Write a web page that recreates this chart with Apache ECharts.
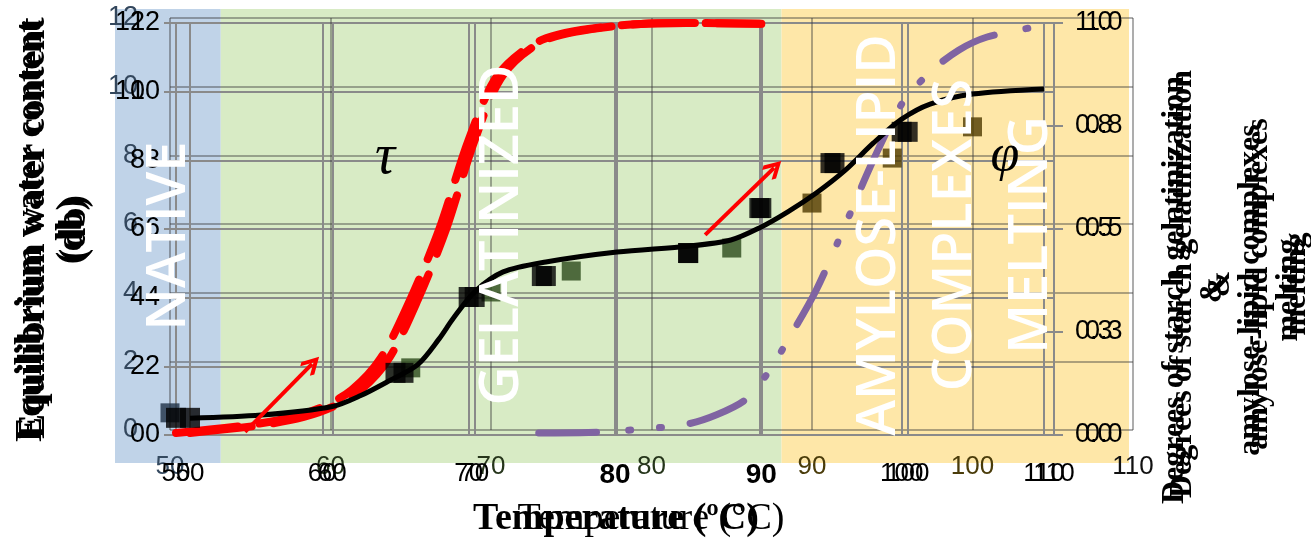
<!DOCTYPE html>
<html><head><meta charset="utf-8">
<script src="https://cdn.jsdelivr.net/npm/echarts@6/dist/echarts.min.js"></script>
<style>html,body{margin:0;padding:0;background:#fff}#chart{width:1311px;height:540px}</style>
</head><body><div id="chart"></div>
<script>
// ---------- data ----------
const tempTicks = [50, 60, 70, 80, 90, 100, 110];
const waterTicks = [0, 2, 4, 6, 8, 10, 12];
const degreeTicks = [0, 0.25, 0.5, 0.75, 1];

const squareTemps = [50, 65, 70, 75, 85, 90, 95, 100];
const squareWater = [0.50, 1.81, 4.02, 4.63, 5.30, 6.61, 7.92, 8.83];

const fitTemps = [50, 55, 60, 62, 64, 66, 67.5, 68.5, 70, 72, 75, 80, 85, 88, 90, 92, 94, 96, 98, 100, 102, 105, 110];
const fitWater = [0.49, 0.58, 0.83, 1.15, 1.58, 2.05, 2.80, 3.40, 4.17, 4.75, 5.04, 5.33, 5.50, 5.68, 6.03, 6.50, 7.05, 7.70, 8.50, 9.20, 9.64, 9.93, 10.08];

const tauTemps = [50, 55, 58, 60, 62, 64, 66, 68, 70, 72, 75, 80, 85, 90];
const tauValues = [0.005, 0.024, 0.044, 0.068, 0.109, 0.187, 0.328, 0.50, 0.716, 0.874, 0.959, 0.993, 1.0, 0.998];

const phiTemps = [74.5, 78, 82, 85, 87, 89, 90.5, 92, 94, 96, 98, 100, 102, 104, 106, 109];
const phiValues = [0.005, 0.006, 0.015, 0.027, 0.049, 0.085, 0.146, 0.23, 0.352, 0.507, 0.667, 0.803, 0.881, 0.934, 0.966, 0.988];

const bandNames = ['NATIVE', 'GELATINIZED', 'AMYLOSE-LIPID\nCOMPLEXES\nMELTING'];
const bandEdges = [46.57, 53.16, 88.1, 109.75];

const arrowStarts = [[54.72, 0.09], [86.16, 5.83]];
const arrowEnds = [[59.3, 2.07], [90.87, 7.78]];

const leftTitle = ['Equilibrium water content', '(db)'];
const rightTitle = ['Degrees of starch gelatinization', '&', 'amylose-lipid complexes', 'melting'];
const xTitle = 'Temperature (ºC)';
const xTitle2 = 'Temperature (°C)';

// ---------- styling helpers ----------
const bandColors = ['#c0d3e8', '#d8ebc5', '#fee7a8'];
const shadowSquareColors = ['#1f3246', '#2c4a1a', '#4d3900'];
const shadowLabelColors = ['#34495f', '#26351b', '#4a3c0a'];
const GRAY = '#8a8a8a';
const TINT = 'rgba(60,60,60,0.42)';
const SANS = "'Liberation Sans', Arial, sans-serif";
const SERIF = "'Liberation Serif', 'Times New Roman', serif";

function bandIndex(t) {
  for (let i = 0; i < 3; i++) if (t < bandEdges[i + 1]) return i;
  return -1;
}
const zip = (a, b) => a.map((v, i) => [v, b[i]]);

const chart = echarts.init(document.getElementById('chart'), null, {renderer: 'canvas'});

const xBase = (grid, extra) => Object.assign({
  type: 'value', gridIndex: grid, min: tempTicks[0], max: tempTicks[tempTicks.length - 1],
  interval: tempTicks[1] - tempTicks[0], z: 2,
  axisLine: {show: false}, axisTick: {show: false}
}, extra);

const yBase = (grid, ticks, extra) => Object.assign({
  type: 'value', gridIndex: grid, min: ticks[0], max: ticks[ticks.length - 1],
  interval: ticks[1] - ticks[0], z: 2,
  axisLine: {show: false}, axisTick: {show: false}, splitLine: {show: false}
}, extra);

const option = {
  animation: false,
  backgroundColor: '#ffffff',
  grid: [
    {left: 115, right: 182, top: 9, bottom: 77},
    {left: 170, right: 178, top: 18, bottom: 110},
    {left: 176, right: 257, top: 23, bottom: 105},
    {left: 190, right: 267, top: 23, bottom: 105}
  ],
  xAxis: [
    {type: 'value', gridIndex: 0, min: bandEdges[0], max: bandEdges[3], show: false},
    xBase(1, {
      splitLine: {show: true, lineStyle: {color: TINT, width: 2}},
      axisLabel: {margin: 24, fontSize: 26, fontFamily: SANS,
        color: function (v) { const i = bandIndex(Number(v)); return i < 0 ? '#111' : shadowLabelColors[i]; }}
    }),
    xBase(2, {
      splitLine: {show: true, lineStyle: {color: GRAY, width: 2}},
      axisLabel: {margin: 26, color: '#000',
        formatter: v => (v === 80 || v === 90) ? '{b|' + v + '}' : '{n|' + v + '}',
        rich: {b: {fontSize: 28, fontWeight: 'bold', fontFamily: SANS, color: '#000'},
               n: {fontSize: 26, fontFamily: SANS, color: '#000'}}}
    }),
    xBase(3, {
      splitLine: {show: true, lineStyle: {color: GRAY, width: 2}},
      axisLabel: {margin: 26, fontSize: 26, fontFamily: SANS, color: '#000',
        formatter: v => (v === 80 || v === 90) ? '' : String(v)}
    })
  ],
  yAxis: [
    {type: 'value', gridIndex: 0, min: 0, max: 1, show: false},
    yBase(1, waterTicks, {
      splitLine: {show: true, lineStyle: {color: TINT, width: 2}},
      axisLabel: {margin: 32, fontSize: 27, fontFamily: SANS, color: '#33475d'}
    }),
    yBase(2, waterTicks, {
      splitLine: {show: true, lineStyle: {color: GRAY, width: 2}},
      axisTick: {show: true, length: 12, lineStyle: {color: GRAY, width: 2}},
      axisLabel: {margin: 16, fontSize: 27, fontFamily: SANS, color: '#000'}
    }),
    yBase(2, degreeTicks, {
      position: 'right',
      axisLine: {show: true, lineStyle: {color: GRAY, width: 2}},
      axisTick: {show: true, length: 9, lineStyle: {color: GRAY, width: 2}},
      axisLabel: {margin: 21, fontSize: 27, fontFamily: SANS, color: '#000', formatter: v => v.toFixed(1)}
    }),
    yBase(3, waterTicks, {
      axisLabel: {margin: 45, fontSize: 27, fontFamily: SANS, color: '#000'}
    }),
    yBase(3, degreeTicks, {
      position: 'right',
      axisLine: {show: true, lineStyle: {color: GRAY, width: 2}},
      axisTick: {show: true, length: 19, lineStyle: {color: GRAY, width: 2}},
      axisLabel: {margin: 41, fontSize: 27, fontFamily: SANS, color: '#000', formatter: v => v.toFixed(1)}
    })
  ],
  series: [
    {
      type: 'line', xAxisIndex: 0, yAxisIndex: 0, z: 1, silent: true, showSymbol: false,
      data: [[bandEdges[0], 0]],
      markArea: {silent: true, z: 1,
        data: bandColors.map((c, i) => [{xAxis: bandEdges[i], itemStyle: {color: c, opacity: 1}}, {xAxis: bandEdges[i + 1]}])}
    },
    {
      type: 'scatter', xAxisIndex: 1, yAxisIndex: 1, z: 3, symbol: 'rect', symbolSize: 19,
      data: zip(squareTemps, squareWater),
      itemStyle: {color: p => { const i = bandIndex(p.value[0]); return shadowSquareColors[i < 0 ? 2 : i]; }}
    },
    {
      type: 'line', xAxisIndex: 3, yAxisIndex: 5, z: 4, smooth: 0.3, showSymbol: false,
      data: zip(phiTemps, phiValues),
      lineStyle: {color: '#8064a2', width: 7, type: [58, 32, 2, 29, 2, 29], cap: 'round', join: 'round'}
    },
    {
      type: 'line', xAxisIndex: 2, yAxisIndex: 3, z: 5, smooth: 0.3, showSymbol: false,
      data: zip(tauTemps, tauValues),
      lineStyle: {color: '#ff0000', width: 8, type: [62, 22], cap: 'round', join: 'round'}
    },
    {
      type: 'line', xAxisIndex: 3, yAxisIndex: 5, z: 5, smooth: 0.3, showSymbol: false,
      data: zip(tauTemps, tauValues),
      lineStyle: {color: '#ff0000', width: 8, type: [62, 22], cap: 'round', join: 'round'}
    },
    {
      type: 'line', xAxisIndex: 3, yAxisIndex: 4, z: 6, smooth: 0.3, showSymbol: false,
      data: zip(fitTemps, fitWater),
      lineStyle: {color: '#000', width: 5}
    },
    {
      type: 'scatter', xAxisIndex: 3, yAxisIndex: 4, z: 7, symbol: 'rect', symbolSize: 20,
      data: zip(squareTemps, squareWater), itemStyle: {color: '#000'}
    },
    {
      type: 'scatter', xAxisIndex: 2, yAxisIndex: 2, z: 7, symbol: 'rect', symbolSize: 20,
      data: zip(squareTemps, squareWater), itemStyle: {color: '#000'},
      markLine: {
        silent: true, z: 7,
        symbol: ['none', 'path://M0,0 L10,10 L7.5,12.5 L0,5 L-7.5,12.5 L-10,10 Z'],
        symbolSize: [18, 20],
        label: {show: false},
        lineStyle: {color: '#ff0000', width: 4, type: 'solid'},
        data: arrowStarts.map((s, i) => [{coord: s}, {coord: arrowEnds[i]}])
      }
    }
  ],
  graphic: {elements: []}
};

function T(x, y, text, size, extra, rot) {
  return {
    type: 'text', x: x, y: y, rotation: rot || 0, z: 100, silent: true,
    style: Object.assign({
      text: text, fontSize: size, fontFamily: SERIF, fill: '#000',
      align: 'center', verticalAlign: 'middle', textAlign: 'center', textVerticalAlign: 'middle'
    }, extra || {})
  };
}
const R = Math.PI / 2;
const W = {fontFamily: "'Open Sans', 'Noto Sans', sans-serif", fontWeight: 600, fill: '#ffffff'};
const g = option.graphic.elements;
// band labels
g.push(T(170, 236, bandNames[0], 54, W, R));
g.push(T(503, 235, bandNames[1], 54, W, R));
g.push(T(956, 235, bandNames[2], 54, Object.assign({lineHeight: 76}, W), R));
// tau & phi
g.push(T(385, 158, 'τ', 56, {fontStyle: 'italic'}));
g.push(T(1005, 156, 'φ', 52, {fontStyle: 'italic'}));
// left title (doubled)
[[0, 0], [3, -3]].forEach(o => {
  g.push(T(31 + o[0], 231 + o[1], leftTitle[0], 37, {fontWeight: 'bold'}, R));
  g.push(T(72 + o[0], 231 + o[1], leftTitle[1], 37, {fontWeight: 'bold'}, R));
});
// right title (doubled)
const rx = [1175, 1213, 1251, 1289];
[[0, 0], [8, -6]].forEach(o => {
  rightTitle.forEach((t, i) => g.push(T(rx[i] + o[0], 290 + o[1], t, 32, {fontWeight: 'bold'}, R)));
});
// x title (two copies)
g.push(T(616, 519, xTitle, 38, {fontWeight: 'bold'}));
g.push(T(651, 519, xTitle2, 38, {fontWeight: 'normal'}));

chart.setOption(option);
</script></body></html>
